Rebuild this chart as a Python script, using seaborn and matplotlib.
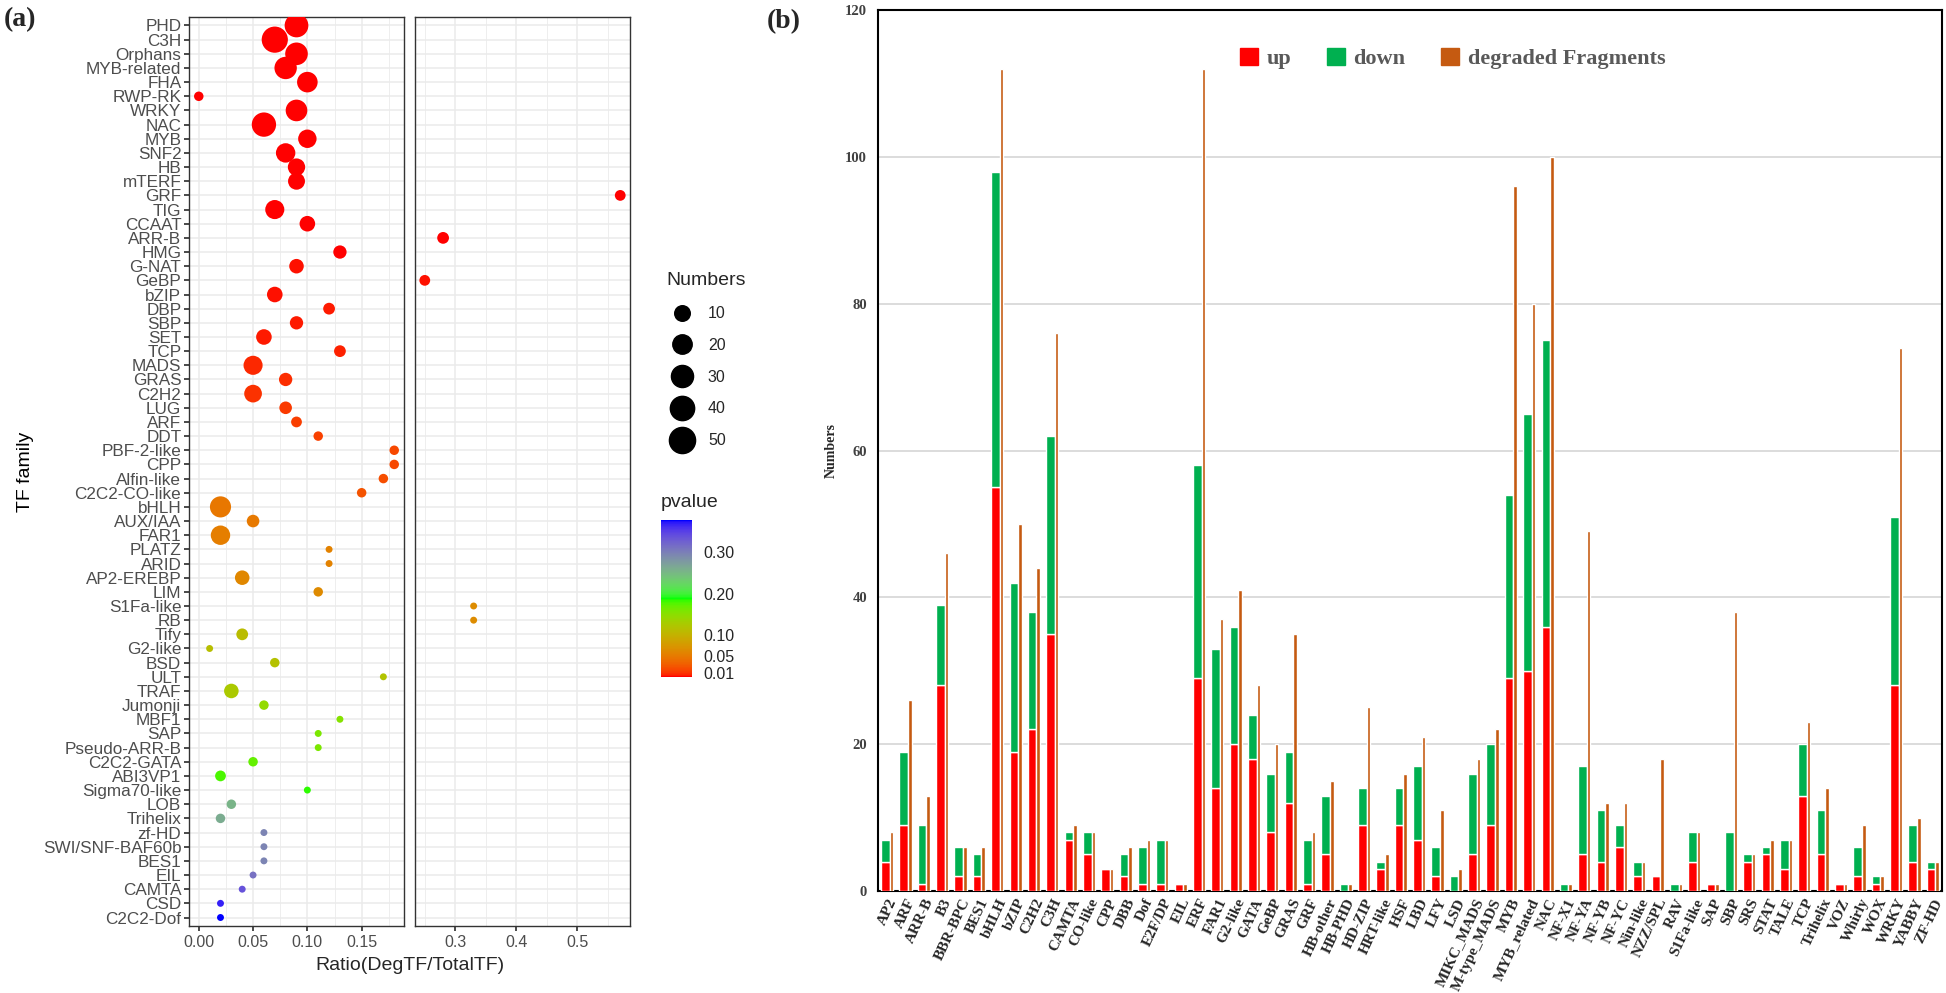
import numpy as np
import pandas as pd
import matplotlib
matplotlib.use("Agg")
import matplotlib.pyplot as plt
import seaborn as sns
from matplotlib.colors import ListedColormap, Normalize, PowerNorm
from matplotlib.lines import Line2D
from matplotlib.patches import Patch

# ---------------- panel (a) data ----------------
families = ["PHD", "C3H", "Orphans", "MYB-related", "FHA", "RWP-RK", "WRKY", "NAC", "MYB", "SNF2",
            "HB", "mTERF", "GRF", "TIG", "CCAAT", "ARR-B", "HMG", "G-NAT", "GeBP", "bZIP",
            "DBP", "SBP", "SET", "TCP", "MADS", "GRAS", "C2H2", "LUG", "ARF", "DDT",
            "PBF-2-like", "CPP", "Alfin-like", "C2C2-CO-like", "bHLH", "AUX/IAA", "FAR1", "PLATZ", "ARID", "AP2-EREBP",
            "LIM", "S1Fa-like", "RB", "Tify", "G2-like", "BSD", "ULT", "TRAF", "Jumonji", "MBF1",
            "SAP", "Pseudo-ARR-B", "C2C2-GATA", "ABI3VP1", "Sigma70-like", "LOB", "Trihelix", "zf-HD", "SWI/SNF-BAF60b", "BES1",
            "EIL", "CAMTA", "CSD", "C2C2-Dof"]
ratio = [0.09, 0.07, 0.09, 0.08, 0.10, 0.00, 0.09, 0.06, 0.10, 0.08,
         0.09, 0.09, 0.57, 0.07, 0.10, 0.28, 0.13, 0.09, 0.25, 0.07,
         0.12, 0.09, 0.06, 0.13, 0.05, 0.08, 0.05, 0.08, 0.09, 0.11,
         0.18, 0.18, 0.17, 0.15, 0.02, 0.05, 0.02, 0.12, 0.12, 0.04,
         0.11, 0.33, 0.33, 0.04, 0.01, 0.07, 0.17, 0.03, 0.06, 0.13,
         0.11, 0.11, 0.05, 0.02, 0.10, 0.03, 0.02, 0.06, 0.06, 0.06,
         0.05, 0.04, 0.02, 0.02]
numbers = [37, 50, 32, 31, 24, 2, 28, 40, 17, 20,
           14, 13, 3, 19, 10, 4, 6, 8, 3, 10,
           4, 6, 10, 4, 19, 6, 15, 5, 3, 2,
           2, 2, 2, 2, 26, 5, 20, 1, 1, 8,
           2, 1, 1, 4, 1, 2, 1, 8, 2, 1,
           1, 1, 2, 3, 1, 2, 2, 1, 1, 1,
           1, 1, 1, 1]
pvalue = [1e-10, 1e-9, 1e-8, 1e-7, 1e-6, 1e-5, 2e-5, 5e-5, 1e-4, 2e-4,
          3e-4, 4e-4, 5e-4, 6e-4, 8e-4, 1e-3, 1.2e-3, 1.5e-3, 2e-3, 2.5e-3,
          3e-3, 3.5e-3, 4e-3, 5e-3, 7e-3, 8e-3, 9e-3, 0.012, 0.014, 0.016,
          0.018, 0.018, 0.022, 0.025, 0.048, 0.050, 0.054, 0.057, 0.057, 0.062,
          0.064, 0.066, 0.066, 0.113, 0.115, 0.118, 0.121, 0.126, 0.145, 0.155,
          0.160, 0.160, 0.170, 0.180, 0.186, 0.255, 0.262, 0.296, 0.296, 0.296,
          0.312, 0.338, 0.368, 0.378]

# ---------------- panel (b) data ----------------
b_fam = ["AP2", "ARF", "ARR-B", "B3", "BBR-BPC", "BES1", "bHLH", "bZIP", "C2H2", "C3H",
         "CAMTA", "CO-like", "CPP", "DBB", "Dof", "E2F/DP", "EIL", "ERF", "FAR1", "G2-like",
         "GATA", "GeBP", "GRAS", "GRF", "HB-other", "HB-PHD", "HD-ZIP", "HRT-like", "HSF", "LBD",
         "LFY", "LSD", "MIKC_MADS", "M-type_MADS", "MYB", "MYB_related", "NAC", "NF-X1", "NF-YA", "NF-YB",
         "NF-YC", "Nin-like", "NZZ/SPL", "RAV", "S1Fa-like", "SAP", "SBP", "SRS", "STAT", "TALE",
         "TCP", "Trihelix", "VOZ", "Whirly", "WOX", "WRKY", "YABBY", "ZF-HD"]
up = [4, 9, 1, 28, 2, 2, 55, 19, 22, 35,
      7, 5, 3, 2, 1, 1, 1, 29, 14, 20,
      18, 8, 12, 1, 5, 0, 9, 3, 9, 7,
      2, 0, 5, 9, 29, 30, 36, 0, 5, 4,
      6, 2, 2, 0, 4, 1, 0, 4, 5, 3,
      13, 5, 1, 2, 1, 28, 4, 3]
down = [3, 10, 8, 11, 4, 3, 43, 23, 16, 27,
        1, 3, 0, 3, 5, 6, 0, 29, 19, 16,
        6, 8, 7, 6, 8, 1, 5, 1, 5, 10,
        4, 2, 11, 11, 25, 35, 39, 1, 12, 7,
        3, 2, 0, 1, 4, 0, 8, 1, 1, 4,
        7, 6, 0, 4, 1, 23, 5, 1]
degraded = [8, 26, 13, 46, 6, 6, 112, 50, 44, 76,
            9, 8, 3, 6, 7, 7, 1, 112, 37, 41,
            28, 20, 35, 8, 15, 1, 25, 5, 16, 21,
            11, 3, 18, 22, 96, 80, 100, 1, 49, 12,
            12, 4, 18, 1, 8, 1, 38, 5, 7, 7,
            23, 14, 1, 9, 2, 74, 10, 4]


def srgb_to_lab(c):
    c = np.asarray(c, float)
    lin = np.where(c <= 0.04045, c / 12.92, ((c + 0.055) / 1.055) ** 2.4)
    xyz = M @ lin / WHITE
    f = np.where(xyz > 0.008856, np.cbrt(xyz), 7.787 * xyz + 16 / 116)
    return np.array([116 * f[1] - 16, 500 * (f[0] - f[1]), 200 * (f[1] - f[2])])


def lab_to_srgb(lab):
    fy = (lab[0] + 16) / 116
    f = np.array([fy + lab[1] / 500, fy, fy - lab[2] / 200])
    xyz = np.where(f ** 3 > 0.008856, f ** 3, (f - 16 / 116) / 7.787) * WHITE
    lin = np.clip(np.linalg.inv(M) @ xyz, 0, 1)
    return np.clip(np.where(lin <= 0.0031308, 12.92 * lin, 1.055 * lin ** (1 / 2.4) - 0.055), 0, 1)


M = np.array([[0.4124, 0.3576, 0.1805], [0.2126, 0.7152, 0.0722], [0.0193, 0.1192, 0.9505]])
WHITE = np.array([0.95047, 1.0, 1.08883])

# red -> green -> blue gradient interpolated in Lab (like ggplot)
anchors = [srgb_to_lab(c) for c in ([1, 0, 0], [0, 1, 0], [0, 0, 1])]
cols = []
for t in np.linspace(0, 1, 256):
    seg = 0 if t < 0.5 else 1
    u = t * 2 - seg
    cols.append(lab_to_srgb(anchors[seg] * (1 - u) + anchors[seg + 1] * u))
cmap = ListedColormap(cols)
hue_norm = Normalize(0, 0.378)

sns.set_theme(style="white")
plt.rcParams["font.family"] = ["Liberation Sans", "DejaVu Sans"]

W, H = 1946, 993
fig = plt.figure(figsize=(W / 100, H / 100), dpi=100)
axL = fig.add_axes([189 / W, 1 - 926 / H, 215 / W, 909 / H])
axR = fig.add_axes([415 / W, 1 - 926 / H, 215 / W, 909 / H], sharey=axL)

df = pd.DataFrame({"family": families, "ratio": ratio, "Numbers": numbers, "pvalue": pvalue})
size_norm = PowerNorm(0.7, vmin=1, vmax=52)
smin, smax = 25, 365

for ax in (axL, axR):
    sns.scatterplot(data=df, x="ratio", y="family", hue="pvalue", palette=cmap, hue_norm=hue_norm,
                    size="Numbers", sizes=(smin, smax), size_norm=size_norm,
                    linewidth=0, legend=False, ax=ax, zorder=3)
    ax.set_axisbelow(True)
    ax.grid(which="major", color="#EBEBEB", lw=1.1)
    ax.grid(which="minor", axis="x", color="#EBEBEB", lw=0.6)
    for s in ax.spines.values():
        s.set_color("#333333")
        s.set_linewidth(1.0)
    ax.set_xlabel("")
    ax.set_ylabel("")
    ax.tick_params(axis="x", bottom=True, length=3.5, color="#333333", labelsize=11.5,
                   labelcolor="#4D4D4D", pad=3)

axL.set_ylim(len(families) - 0.4, -0.6)
axL.set_xlim(-0.009, 0.189)
axL.set_xticks([0, 0.05, 0.10, 0.15])
axL.set_xticklabels(["0.00", "0.05", "0.10", "0.15"])
axL.set_xticks([0.025, 0.075, 0.125, 0.175], minor=True)
axL.tick_params(axis="y", left=True, length=3.5, color="#333333", labelsize=12.3,
                labelcolor="#4D4D4D", pad=2)
axL.set_ylabel("TF family", fontsize=14, color="black", labelpad=6)

axR.set_xlim(0.234, 0.586)
axR.set_xticks([0.3, 0.4, 0.5])
axR.set_xticklabels(["0.3", "0.4", "0.5"])
axR.set_xticks([0.25, 0.35, 0.45, 0.55], minor=True)
axR.tick_params(axis="y", left=False, labelleft=False)

fig.text(410 / W, 1 - 966 / H, "Ratio(DegTF/TotalTF)", ha="center", va="center", fontsize=14)

# size legend
leg_vals = [10, 20, 30, 40, 50]
handles = [Line2D([], [], ls="", marker="o", color="black",
                  markersize=np.sqrt(smin + (smax - smin) * size_norm(v))) for v in leg_vals]
fig.legend(handles, [str(v) for v in leg_vals], title="Numbers", loc="upper left",
           bbox_to_anchor=(652 / W, 1 - 258 / H), frameon=False, fontsize=11.5,
           title_fontsize=14, labelspacing=1.05, handletextpad=0.6, alignment="left")

# colour bar
cax = fig.add_axes([661 / W, 1 - 677 / H, 31 / W, 157 / H])
cb = fig.colorbar(plt.cm.ScalarMappable(norm=hue_norm, cmap=cmap), cax=cax)
cb.outline.set_visible(False)
cb.set_ticks([0.01, 0.05, 0.10, 0.20, 0.30])
cb.set_ticklabels(["0.01", "0.05", "0.10", "0.20", "0.30"])
cax.tick_params(axis="y", which="major", direction="in", length=6, width=0.8, color="white",
                left=True, right=True, labelsize=11.5, pad=8)
fig.text(661 / W, 1 - 502 / H, "pvalue", ha="left", va="center", fontsize=14)

# ---------------- panel (b) ----------------
serif = ["Liberation Serif", "DejaVu Serif"]
axB = fig.add_axes([878 / W, 1 - 891 / H, 1064 / W, 881 / H])
x = np.arange(len(b_fam))
axB.bar(x - 0.095, up, width=0.47, color="#FF0000", zorder=3, label="up")
axB.bar(x - 0.095, down, bottom=up, width=0.47, color="#00B050", zorder=3, label="down")
axB.bar(x + 0.235, degraded, width=0.19, color="#C55A11", zorder=3, label="degraded Fragments")
axB.set_xlim(-0.5, len(b_fam) - 0.5)
axB.set_ylim(0, 120)
axB.set_yticks(range(0, 121, 20))
axB.set_yticklabels([str(v) for v in range(0, 121, 20)], family=serif, fontsize=10.5,
                    color="#404040", fontweight="bold")
axB.set_xticks(x)
axB.set_xticklabels(b_fam, rotation=65, ha="right", rotation_mode="anchor",
                    family=serif, fontweight="bold", fontsize=11)
axB.tick_params(axis="x", length=0, pad=4)
axB.tick_params(axis="y", length=0, pad=8)
axB.grid(axis="y", color="#D9D9D9", lw=1.3)
axB.grid(axis="x", visible=False)
axB.set_axisbelow(True)
for s in axB.spines.values():
    s.set_color("black")
    s.set_linewidth(1.5)
axB.set_ylabel("Numbers", family=serif, fontweight="bold", fontsize=10, labelpad=5)

hb = [Patch(color="#FF0000"), Patch(color="#00B050"), Patch(color="#C55A11")]
axB.legend(hb, ["up", "down", "degraded Fragments"], loc="center", bbox_to_anchor=(0.54, 0.945),
           ncol=3, frameon=False, handlelength=0.8, handleheight=0.8, handletextpad=0.4,
           columnspacing=1.6, prop={"family": serif, "weight": "bold", "size": 16},
           labelcolor="#595959")

fig.text(4 / W, 1 - 20 / H, "(a)", family=serif, fontweight="bold", fontsize=20, va="center")
fig.text(767 / W, 1 - 22 / H, "(b)", family=serif, fontweight="bold", fontsize=20, va="center")

fig.savefig("out.png", dpi=100)
